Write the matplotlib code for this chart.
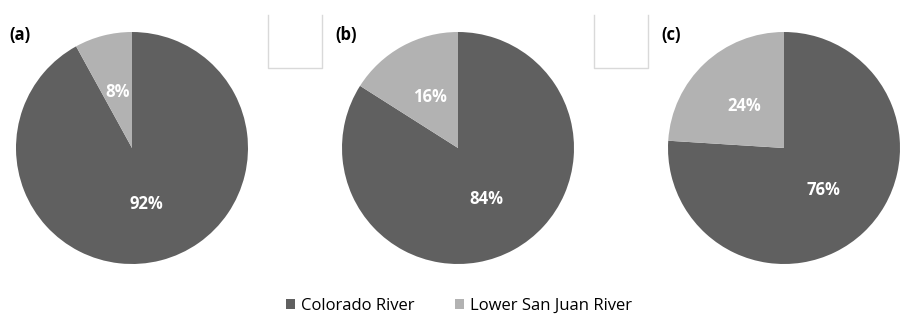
import matplotlib
matplotlib.use('Agg')
import matplotlib.pyplot as plt
from matplotlib.patches import Patch
from matplotlib.lines import Line2D

plt.rcParams['font.family'] = ['Open Sans', 'DejaVu Sans']

# share of flow by source for the three cases
panels = ['(a)', '(b)', '(c)']
sources = ['Colorado River', 'Lower San Juan River']
colorado = [92, 84, 76]
san_juan = [8, 16, 24]
colors = ['#606060', '#b2b2b2']

W, H = 906, 327
fig = plt.figure(figsize=(W / 100, H / 100), dpi=100)

centers_x = [132, 458, 784]
cy, r = 148, 116

for i in range(3):
    cx = centers_x[i]
    ax = fig.add_axes([(cx - r) / W, (H - cy - r) / H, 2 * r / W, 2 * r / H])
    wedges, texts, autotexts = ax.pie(
        [colorado[i], san_juan[i]], colors=colors, startangle=90,
        counterclock=False, autopct='%d%%', pctdistance=0.5,
        wedgeprops=dict(linewidth=0))
    for t in autotexts:
        t.set_color('white')
        t.set_fontweight('bold')
        t.set_fontsize(12)
    ax.set_xlim(-1, 1)
    ax.set_ylim(-1, 1)
    ax.set_aspect('equal')
    ax.axis('off')
    fig.text((cx - 123) / W, 1 - 35 / H, panels[i], fontsize=12,
             fontweight='bold', ha='left', va='center')

# empty boxes left over between the panels
for x0 in [268, 594]:
    x1 = x0 + 54
    pts_x = [x0, x0, x1, x1]
    pts_y = [15, 68, 68, 15]
    fig.add_artist(Line2D([p / W for p in pts_x], [1 - p / H for p in pts_y],
                          color='#d9d9d9', lw=1))

handles = [Patch(facecolor=c, edgecolor='none') for c in colors]
fig.legend(handles, sources, loc='center', bbox_to_anchor=(459 / W, 1 - 306 / H),
           ncol=2, frameon=False, fontsize=12, handlelength=0.55,
           handleheight=0.55, handletextpad=0.35, columnspacing=2.4)

fig.savefig('out.png', dpi=100)
